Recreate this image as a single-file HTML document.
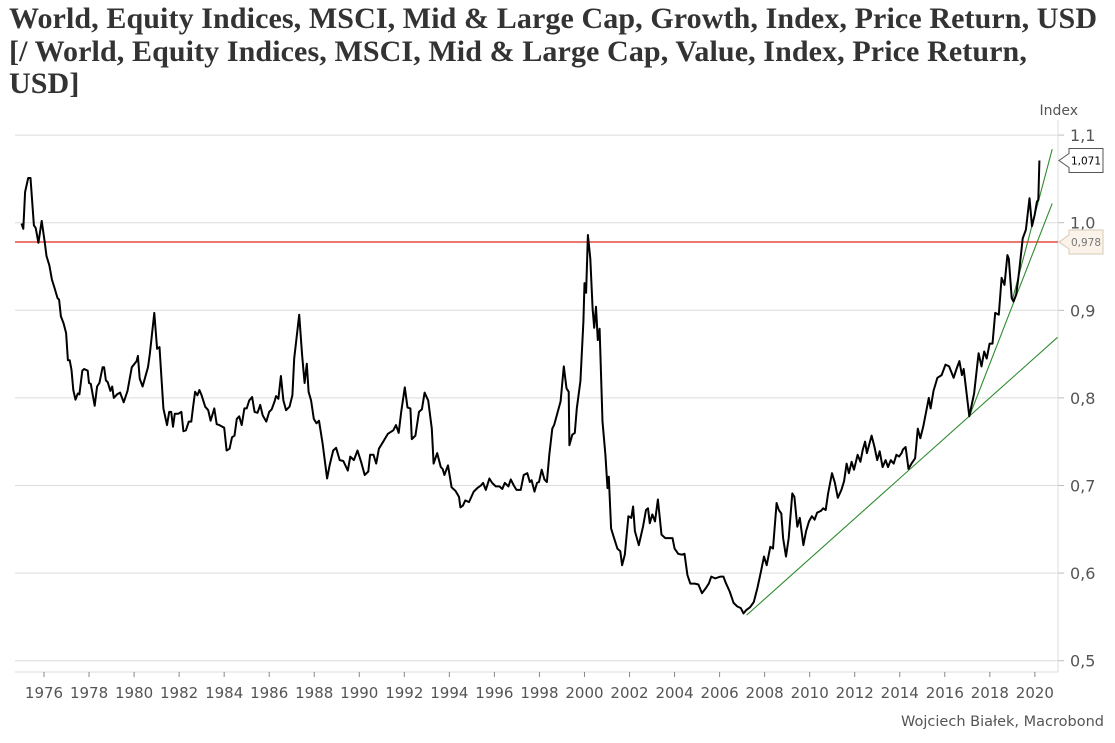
<!DOCTYPE html>
<html><head><meta charset="utf-8">
<style>
body{margin:0;background:#fff;width:1115px;height:743px;overflow:hidden}
.t{position:absolute;left:9px;top:3px;font-family:"Liberation Serif",serif;font-weight:bold;font-size:30px;line-height:32.5px;color:#333;width:1092px;letter-spacing:0.1px}
svg{position:absolute;left:0;top:0}
text{font-family:"DejaVu Sans","Liberation Sans",sans-serif}
</style></head><body>
<div class="t">World, Equity Indices, MSCI, Mid &amp; Large Cap, Growth, Index, Price Return, USD [/ World, Equity Indices, MSCI, Mid &amp; Large Cap, Value, Index, Price Return, USD]</div>
<svg id="c" width="1115" height="743"></svg>
<script>
const dates=[1975.0,1975.08,1975.16,1975.3,1975.4,1975.55,1975.63,1975.75,1975.9,1976.03,1976.11,1976.24,1976.35,1976.46,1976.6,1976.67,1976.75,1976.87,1976.98,1977.06,1977.14,1977.22,1977.3,1977.4,1977.5,1977.57,1977.7,1977.78,1977.94,1978.0,1978.08,1978.25,1978.36,1978.46,1978.6,1978.67,1978.75,1978.83,1978.95,1979.03,1979.1,1979.24,1979.38,1979.54,1979.71,1979.9,1980.11,1980.17,1980.25,1980.38,1980.62,1980.7,1980.9,1981.02,1981.13,1981.3,1981.46,1981.56,1981.65,1981.73,1981.81,1981.97,1982.1,1982.19,1982.3,1982.43,1982.54,1982.62,1982.71,1982.81,1982.9,1983.0,1983.16,1983.29,1983.4,1983.56,1983.67,1983.79,1983.92,1984.0,1984.11,1984.24,1984.35,1984.46,1984.56,1984.67,1984.78,1984.9,1985.0,1985.11,1985.24,1985.35,1985.48,1985.6,1985.71,1985.87,1986.0,1986.11,1986.24,1986.3,1986.41,1986.52,1986.63,1986.75,1986.9,1987.03,1987.11,1987.33,1987.46,1987.57,1987.67,1987.75,1987.86,1987.98,1988.1,1988.21,1988.37,1988.57,1988.68,1988.84,1988.97,1989.13,1989.29,1989.49,1989.6,1989.76,1989.92,1990.08,1990.24,1990.4,1990.48,1990.63,1990.75,1990.87,1991.06,1991.27,1991.51,1991.63,1991.75,1991.86,1992.02,1992.14,1992.27,1992.33,1992.49,1992.65,1992.78,1992.9,1993.06,1993.22,1993.3,1993.46,1993.62,1993.7,1993.78,1993.94,1994.1,1994.27,1994.43,1994.49,1994.6,1994.71,1994.87,1995.08,1995.24,1995.4,1995.5,1995.62,1995.78,1995.9,1996.06,1996.22,1996.35,1996.46,1996.62,1996.73,1996.86,1996.98,1997.17,1997.3,1997.46,1997.57,1997.65,1997.78,1997.89,1997.98,1998.1,1998.22,1998.33,1998.44,1998.57,1998.65,1998.94,
1999.08,1999.2,1999.3,1999.33,1999.46,1999.57,1999.66,1999.82,1999.95,2000.0,2000.07,2000.15,2000.26,2000.36,2000.43,2000.51,2000.59,2000.67,2000.8,2000.93,2001.02,2001.08,2001.18,2001.29,2001.46,2001.59,2001.67,2001.79,2001.95,2002.08,2002.16,2002.24,2002.41,2002.52,2002.6,2002.73,2002.82,2002.9,2003.01,2003.13,2003.26,2003.42,2003.59,2003.83,2003.91,2004.0,2004.16,2004.32,2004.44,2004.57,2004.7,2004.9,2005.06,2005.22,2005.39,2005.52,2005.63,2005.8,2006.04,2006.17,2006.29,2006.45,2006.62,2006.78,2006.94,2007.06,2007.19,2007.35,2007.52,2007.68,2007.84,2007.97,2008.09,2008.25,2008.37,2008.53,2008.63,2008.74,2008.82,2008.95,2009.07,2009.23,2009.32,2009.45,2009.56,2009.72,2009.84,2009.97,2010.1,2010.22,2010.33,2010.5,2010.6,2010.71,2010.82,2010.99,2011.12,2011.25,2011.41,2011.53,2011.64,2011.74,2011.86,2011.97,2012.13,2012.25,2012.36,2012.46,2012.54,2012.75,2012.88,2013.0,2013.11,2013.24,2013.37,2013.48,2013.6,2013.73,2013.85,2013.97,2014.08,2014.14,2014.26,2014.39,2014.52,2014.68,2014.8,2014.91,2015.04,2015.17,2015.29,2015.37,2015.5,2015.67,2015.86,2016.03,2016.19,2016.39,2016.52,2016.65,2016.76,2016.84,2017.09,2017.3,2017.5,2017.63,2017.75,2017.86,2017.99,2018.12,2018.24,2018.4,2018.52,2018.65,2018.78,2018.84,2018.97,2019.05,2019.17,2019.3,2019.46,2019.6,2019.76,2019.87,2019.99,2020.09,2020.15,2020.2];
const values=[0.999,0.993,1.035,1.051,1.051,0.997,0.994,0.977,1.002,0.978,0.962,0.951,0.935,0.926,0.914,0.912,0.893,0.885,0.874,0.843,0.843,0.832,0.809,0.798,0.805,0.804,0.831,0.833,0.831,0.817,0.816,0.791,0.813,0.817,0.835,0.835,0.820,0.818,0.808,0.813,0.800,0.804,0.806,0.795,0.808,0.835,0.842,0.848,0.822,0.813,0.835,0.850,0.897,0.856,0.858,0.788,0.769,0.784,0.784,0.767,0.782,0.782,0.784,0.762,0.763,0.773,0.773,0.790,0.807,0.803,0.809,0.803,0.790,0.786,0.774,0.788,0.770,0.769,0.767,0.766,0.740,0.742,0.755,0.757,0.776,0.779,0.769,0.788,0.788,0.797,0.801,0.784,0.783,0.792,0.780,0.773,0.784,0.787,0.796,0.802,0.799,0.825,0.797,0.786,0.790,0.803,0.845,0.895,0.849,0.817,0.839,0.807,0.797,0.776,0.771,0.774,0.748,0.708,0.723,0.740,0.743,0.729,0.728,0.717,0.733,0.729,0.740,0.727,0.712,0.716,0.735,0.735,0.725,0.742,0.750,0.759,0.763,0.769,0.760,0.784,0.812,0.789,0.788,0.753,0.757,0.784,0.787,0.806,0.797,0.765,0.725,0.737,0.721,0.719,0.712,0.723,0.698,0.694,0.687,0.675,0.677,0.683,0.681,0.693,0.697,0.700,0.703,0.695,0.708,0.703,0.699,0.699,0.696,0.703,0.699,0.707,0.700,0.695,0.695,0.712,0.714,0.704,0.706,0.693,0.703,0.704,0.718,0.707,0.704,0.735,0.765,0.769,0.796,
0.836,0.811,0.807,0.746,0.758,0.760,0.788,0.819,0.887,0.931,0.920,0.986,0.959,0.902,0.880,0.904,0.866,0.879,0.773,0.735,0.697,0.710,0.651,0.642,0.628,0.625,0.609,0.621,0.665,0.663,0.676,0.648,0.632,0.644,0.653,0.672,0.674,0.657,0.667,0.659,0.684,0.644,0.640,0.640,0.640,0.628,0.622,0.621,0.622,0.598,0.588,0.588,0.587,0.577,0.583,0.588,0.596,0.594,0.596,0.596,0.588,0.579,0.566,0.562,0.560,0.554,0.558,0.561,0.567,0.583,0.602,0.619,0.609,0.630,0.628,0.680,0.672,0.668,0.640,0.619,0.640,0.691,0.687,0.653,0.663,0.632,0.648,0.659,0.665,0.661,0.669,0.671,0.674,0.672,0.691,0.714,0.703,0.686,0.695,0.705,0.725,0.714,0.727,0.718,0.735,0.727,0.741,0.750,0.737,0.757,0.744,0.729,0.739,0.721,0.729,0.721,0.729,0.725,0.735,0.733,0.737,0.741,0.744,0.719,0.725,0.731,0.765,0.754,0.767,0.784,0.800,0.788,0.808,0.823,0.826,0.838,0.836,0.823,0.833,0.842,0.826,0.833,0.779,0.805,0.851,0.836,0.853,0.845,0.862,0.862,0.897,0.895,0.937,0.929,0.963,0.959,0.914,0.910,0.918,0.944,0.982,0.992,1.028,0.996,1.009,1.024,1.026,1.071];
const yTicks=[0.5,0.6,0.7,0.8,0.9,1.0,1.1];
const yTickLabels=["0,5","0,6","0,7","0,8","0,9","1,0","1,1"];
const xTicks=[1976,1978,1980,1982,1984,1986,1988,1990,1992,1994,1996,1998,2000,2002,2004,2006,2008,2010,2012,2014,2016,2018,2020];
const refLevel=[0.978];
const trendStartX=[2007.2,2017.09,2019.0];
const trendStartY=[0.552,0.779,0.912];
const trendEndX=[2021.0,2020.77,2020.77];
const trendEndY=[0.869,1.022,1.084];
const lastValue=[1.071];

const NS="http://www.w3.org/2000/svg";
const svg=document.getElementById('c');
const X=y=>44+(y-1976)*22.52;
const Y=v=>660.7-(v-0.5)*876;
function mk(t,a,p){const e=document.createElementNS(NS,t);for(const k in a)e.setAttribute(k,a[k]);(p||svg).appendChild(e);return e;}

yTicks.forEach((v,i)=>{
  const g=mk('line',{x1:15,x2:1058,y1:Y(v),y2:Y(v),stroke:'#dcdcdc','stroke-width':1});
  
  
  mk('line',{x1:1058,x2:1064,y1:Y(v),y2:Y(v),stroke:'#bbb'});
  const t=mk('text',{x:1070,y:Y(v)+6,'font-size':16,fill:'#555'});
  t.textContent=yTickLabels[i];
  
  
});
const ax=mk('line',{x1:1058,x2:1058,y1:120,y2:672,stroke:'#dcdcdc'});


mk('line',{x1:15,x2:1058,y1:672,y2:672,stroke:'#dcdcdc'});
xTicks.forEach(yr=>{
  mk('line',{x1:X(yr),x2:X(yr),y1:672,y2:677,stroke:'#888'});
  const t=mk('text',{x:X(yr),y:698,'font-size':15,fill:'#555','text-anchor':'middle'});
  t.textContent=yr;
  
  
});
const idx=mk('text',{x:1078,y:115,'font-size':14,fill:'#555','text-anchor':'end'});
idx.textContent='Index';



const rl=mk('line',{x1:15,x2:1058,y1:Y(refLevel[0]),y2:Y(refLevel[0]),stroke:'#ec7872','stroke-width':2});



trendStartX.forEach((sx,i)=>{
  const l=mk('line',{x1:X(sx),y1:Y(trendStartY[i]),x2:X(trendEndX[i]),y2:Y(trendEndY[i]),stroke:'#2e8b2e','stroke-width':1.1});
  
  
});

const n=Math.min(dates.length,values.length);
const pts=dates.slice(0,n).map((d,i)=>X(d).toFixed(1)+','+Y(values[i]).toFixed(1)).join(' ');
const pl=mk('polyline',{points:pts,fill:'none',stroke:'#000','stroke-width':2,'stroke-linejoin':'round'});



function tag(v,txt,bg,bd,col,name){
  const y=Y(v);
  const g=mk('g',{});
  
  
  mk('path',{d:`M1059,${y} L1069,${y-7} L1069,${y-12} L1103,${y-12} L1103,${y+12} L1069,${y+12} L1069,${y+7} Z`,fill:bg,stroke:bd},g);
  const t=mk('text',{x:1086,y:y+4,'font-size':10.5,fill:col,'text-anchor':'middle'},g);
  t.textContent=txt;
}
tag(lastValue[0],'1,071','#fff','#555','#000','last-value-label');
tag(refLevel[0],'0,978','#fbf3ea','#d9c9b8','#777','reference-value-label');

const src=mk('text',{x:1104,y:726,'font-size':14.5,fill:'#555','text-anchor':'end'});
src.textContent='Wojciech Białek, Macrobond';


</script>
</body></html>
